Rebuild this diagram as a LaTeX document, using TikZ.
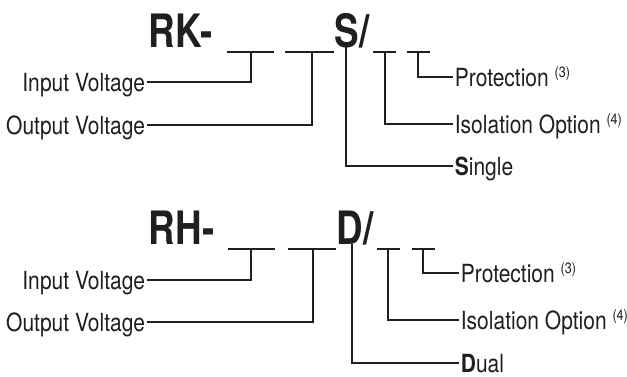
\documentclass[tikz,border=0pt]{standalone}
\usepackage{fontspec}
\newfontfamily\partfont[FakeStretch=0.8]{TeX Gyre Heros}
\newfontfamily\labelfont[FakeStretch=0.84]{TeX Gyre Heros}
\newcommand{\note}[1]{ {\fontsize{15}{15}\selectfont\raisebox{8.5pt}{(#1)}}}
\definecolor{ink}{RGB}{28,32,32}

\begin{document}
\begin{tikzpicture}[x=1pt,y=-1pt,line width=1.8pt,color=ink,
  title/.style={anchor=base west,inner sep=0pt,font=\partfont\bfseries\fontsize{46}{46}\selectfont},
  llabel/.style={anchor=east,inner sep=1pt,text height=18pt,text depth=0pt,font=\labelfont\fontsize{25}{25}\selectfont},
  rlabel/.style={llabel,anchor=west}]
\useasboundingbox (0,0) rectangle (627,376);

% single output
\node[title] (rk) at (148,47) {RK-};
\node[title] (st) at (334,47) {S/};
\draw (227,52) -- (274,52);
\draw (285,52) -- (334,52);
\draw (373,52) -- (396,52);
\draw (407,52) -- (430,52);
\coordinate (in) at (251,52);
\coordinate (out) at (312,52);
\coordinate (sg) at (346,47);
\coordinate (iso) at (385,52);
\coordinate (prot) at (418,52);
\node[llabel] (inlbl) at (147,82) {Input Voltage};
\node[llabel] (outlbl) at (147,125) {Output Voltage};
\node[rlabel] (sglbl) at (453,166) {\textbf{S}ingle};
\node[rlabel] (isolbl) at (453,124) {Isolation Option\note{4}};
\node[rlabel] (protlbl) at (453,77) {Protection\note{3}};
\draw (in) |- (inlbl.east);
\draw (out) |- (outlbl.east);
\draw (sg) |- (sglbl.west);
\draw (iso) |- (isolbl.west);
\draw (prot) |- (protlbl.west);

% dual output
\begin{scope}[yshift=-197pt]
\node[title] (rh) at (148,47) {RH-};
\node[title] (dt) at (336,47) {D/};
\draw (228,52) -- (275,52);
\draw (288,52) -- (336,52);
\draw (377,52) -- (400,52);
\draw (412,52) -- (435,52);
\coordinate (in) at (251,52);
\coordinate (out) at (313,52);
\coordinate (dl) at (352,47);
\coordinate (iso) at (388,52);
\coordinate (prot) at (423,52);
\node[llabel] (inlbl) at (147,83) {Input Voltage};
\node[llabel] (outlbl) at (147,125) {Output Voltage};
\node[rlabel] (dllbl) at (459,166) {\textbf{D}ual};
\node[rlabel] (isolbl) at (459,123) {Isolation Option\note{4}};
\node[rlabel] (protlbl) at (459,76) {Protection\note{3}};
\draw (in) |- (inlbl.east);
\draw (out) |- (outlbl.east);
\draw (dl) |- (dllbl.west);
\draw (iso) |- (isolbl.west);
\draw (prot) |- (protlbl.west);
\end{scope}
\end{tikzpicture}
\end{document}
